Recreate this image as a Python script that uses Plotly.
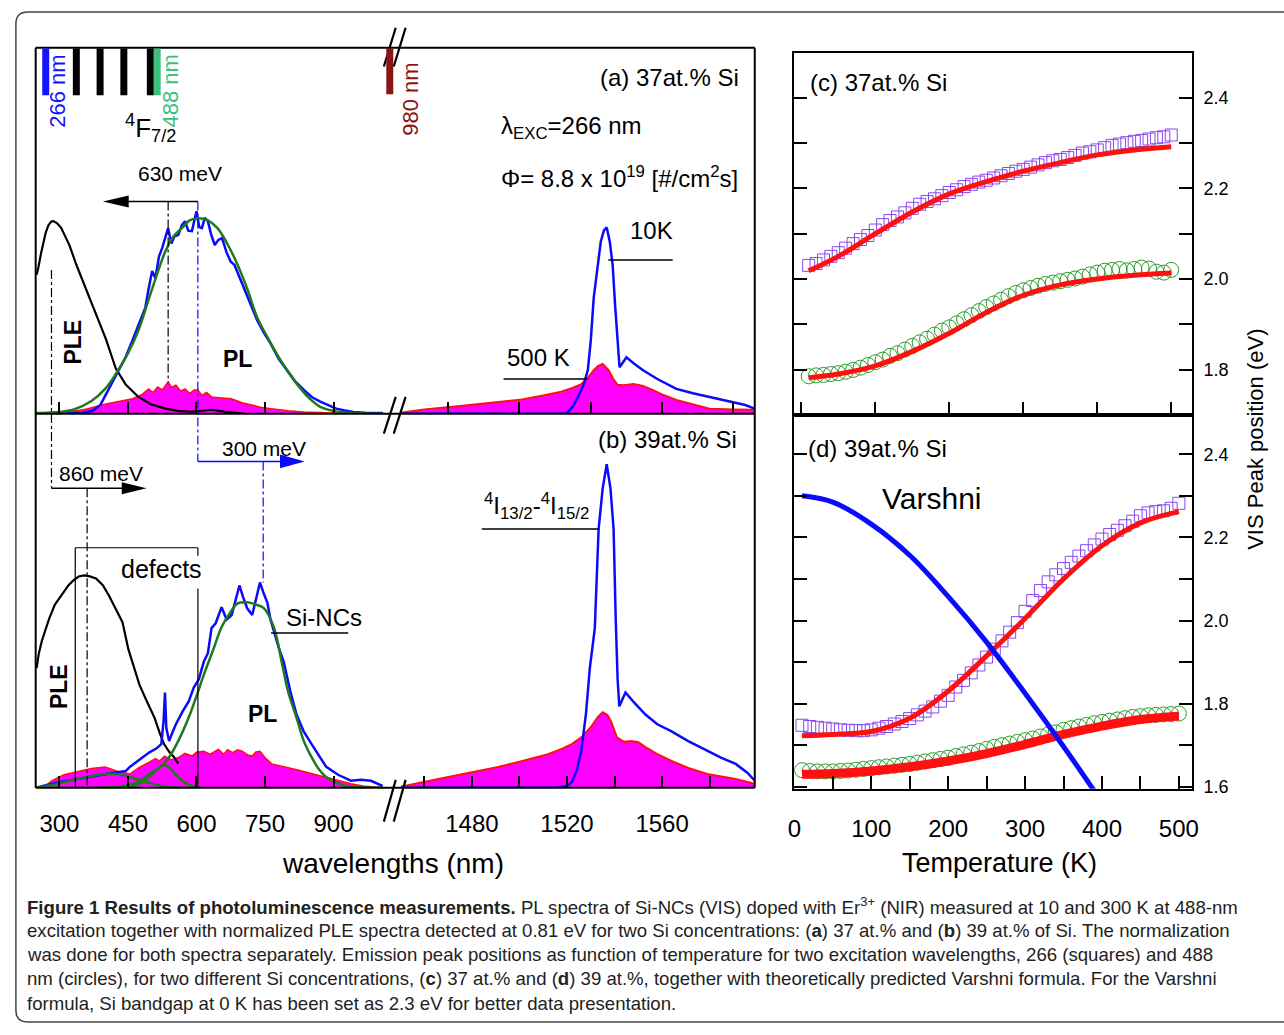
import plotly.graph_objects as go

W, H = 1284, 1035
def X(px): return px / W
def Y(py): return 1 - py / H

FONT = "Arial, Liberation Sans, Helvetica, sans-serif"
CAPFONT = "Liberation Sans, Arial, sans-serif"

# ---------------- panel (a) : 37 at.% Si ----------------
ple_a_wl = [250, 254, 260, 265, 270, 276, 282, 287, 295, 304, 313, 322, 337, 352, 366, 380, 402, 423, 445, 473, 500, 532, 560, 590, 610, 633, 660, 705]
ple_a_int = [38, 40, 44, 47, 49.5, 51.5, 52.5, 52.6, 52, 50.7, 48.5, 46, 40.7, 36, 31.5, 27, 20.3, 12.5, 8, 4.6, 2.6, 1.4, 0.8, 0.5, 0.8, 1.1, 0.6, 0]

pl_a_wl = [248, 300, 350, 373, 390, 402, 415, 430, 445, 460, 475, 488, 495, 503, 510, 518, 525, 532, 538, 545, 552, 560, 568, 575, 582, 590, 596, 600, 606, 612, 618, 625, 632, 640, 648, 656, 666, 675, 683, 695, 705, 720, 733, 748, 763, 780, 798, 815, 835, 853, 871, 890, 906, 925, 943, 970, 1008]
pl_a_int = [0, 0, 0.3, 0.8, 2.5, 5.4, 8.5, 11.9, 15.5, 20.1, 25, 29, 34, 39, 37, 43, 45.3, 48, 50.7, 46.5, 48.5, 48.8, 51.5, 52.6, 50, 49.9, 53, 55.3, 51, 50.7, 53.5, 52.6, 49, 46.1, 47.5, 48, 44, 41.5, 40.7, 37, 33.6, 29.5, 25.5, 22, 19, 15, 11.9, 9, 6.5, 4.5, 3.3, 2.2, 1.4, 0.9, 0.5, 0.3, 0.2]

fit_a_wl = [248, 300, 330, 370, 400, 423, 450, 473, 500, 532, 550, 568, 585, 603, 625, 646, 668, 690, 712, 733, 755, 776, 798, 820, 845, 871, 900, 940, 1008]
fit_a_int = [0.2, 0.5, 1.1, 3.5, 6.8, 10.8, 16.5, 22.8, 33, 44.4, 48.5, 50.7, 52.8, 53.4, 52.8, 50.7, 46.3, 40.7, 33.8, 26.3, 21, 16.3, 12, 8.1, 4.5, 1.9, 0.8, 0.2, 0]

hot_a_wl = [300, 330, 360, 402, 430, 460, 480, 495, 505, 515, 525, 538, 545, 555, 565, 575, 585, 595, 603, 612, 622, 633, 650, 676, 700, 720, 740, 763, 800, 835, 900, 1008]
hot_a_int = [0, 0.6, 1.3, 2.7, 3.3, 4.1, 5.2, 6.8, 5.8, 7.3, 6.5, 8.7, 7.2, 7.8, 6.2, 6.8, 5.5, 6.5, 6.5, 5, 5.8, 4.6, 4.4, 4.1, 3.0, 2.4, 1.8, 1.4, 0.8, 0.5, 0.2, 0]

nir_a_wl = [1450, 1518, 1520.4, 1522.5, 1524.6, 1527, 1528.75, 1530, 1531.25, 1532.8, 1534.2, 1535.5, 1536.7, 1538, 1539.2, 1540.2, 1541.25, 1542.1, 1543.5, 1545, 1548, 1552, 1558, 1566, 1573, 1580, 1589.6, 1595, 1599]
nir_a_int = [0, 0, 0.5, 2, 4.6, 8, 11.9, 20, 31.7, 40, 47, 50, 50.9, 47, 40.7, 30, 20.9, 12.7, 14, 15.4, 13.8, 11.9, 9.5, 6.8, 5.6, 4.6, 3.3, 2.4, 1.4]

nirhot_a_wl = [1450, 1460, 1476, 1490, 1500, 1510, 1517.5, 1522, 1526, 1529, 1531.25, 1533, 1535, 1537.5, 1539.5, 1541.25, 1544, 1548, 1552, 1555, 1560, 1566, 1573, 1580, 1590, 1599]
nirhot_a_int = [0.3, 1.2, 2.2, 3.2, 3.8, 5, 6, 7, 8.1, 10, 11.9, 13, 13.6, 11.9, 9.5, 7.9, 7.8, 8.1, 7.6, 6.8, 5.3, 3.8, 2.5, 1.4, 1.2, 1.1]

# ---------------- panel (b) : 39 at.% Si ----------------
ple_b_wl = [250, 255, 262, 270, 278, 290, 308, 320, 330, 342, 354, 365, 380, 395, 408, 423, 438, 451, 463, 475, 490, 508, 520, 529, 541, 551, 560]
ple_b_int = [32, 36, 39.5, 42.5, 45.4, 49, 52.3, 54.2, 55.4, 56.5, 56.8, 56.6, 56, 54.2, 51.5, 48, 44.3, 37, 32, 27.6, 23.5, 18.8, 14.5, 11.7, 9.5, 8.2, 6.5]

pl_b_wl = [248, 272, 300, 345, 365, 402, 445, 454, 475, 497, 512, 523, 528, 531, 534, 540, 548, 555, 570, 583, 594, 605, 616, 625, 633, 642, 655, 666, 677, 686, 694, 702, 711, 722, 731, 739, 747, 755, 762, 770, 780, 791, 805, 819, 835, 852, 868, 884, 910, 938, 960, 982, 1008]
pl_b_int = [0, 0.8, 1.5, 2.5, 2.9, 3.7, 4.5, 5.6, 7.5, 9.5, 10.5, 11.7, 18, 25.5, 16, 12.5, 15, 17, 20.5, 23.1, 26.8, 29, 33.7, 36, 42.7, 44, 48.3, 45, 46.2, 50, 54.1, 51, 48, 46.2, 50.5, 54.9, 52, 49.6, 45, 41.6, 37.5, 33.7, 26, 19.6, 15, 11.7, 8.5, 5.6, 3.5, 1.9, 2.2, 1.9, 0.5]

fit_b_wl = [248, 400, 440, 470, 497, 520, 540, 560, 583, 600, 616, 638, 655, 672, 690, 711, 730, 748, 770, 787, 800, 819, 835, 852, 868, 884, 910, 938, 980, 1008]
fit_b_int = [0, 0.1, 0.5, 1.5, 3.7, 5.5, 8.2, 12.5, 18.8, 24.5, 30.2, 37.4, 43, 46.5, 49.3, 49.6, 49, 48, 42.7, 33.4, 26, 18.8, 12.5, 8.2, 5, 2.9, 1.2, 0.3, 0, 0]

comp2_b_wl = [440, 465, 485, 500, 515, 527, 540, 555, 570, 590, 610]
comp2_b_int = [0, 0.6, 1.8, 3.2, 5, 6.2, 5.5, 3.5, 1.8, 0.5, 0]

comp3_b_wl = [248, 260, 300, 340, 380, 410, 440, 470, 500, 530, 560, 1008]
comp3_b_int = [0, 0.3, 1.2, 2.4, 3.4, 3.8, 3.4, 2.3, 1.2, 0.4, 0, 0]

hot_b_wl = [265, 283, 310, 345, 370, 400, 425, 454, 475, 497, 510, 519, 530, 545, 562, 575, 590, 600, 616, 630, 648, 660, 668, 679, 690, 700, 712, 722, 730, 739, 752, 765, 780, 798, 815, 830, 860, 884, 910, 938, 970, 1008]
hot_b_int = [0, 1.9, 3.5, 4.5, 5.2, 5.6, 4.5, 3.7, 5.5, 6.9, 7.8, 7.2, 8.5, 7.5, 8.2, 9.2, 8.5, 9.5, 9.8, 9.0, 10.3, 9.0, 10.2, 9.4, 10.2, 9.8, 8.8, 8.5, 9.6, 9.8, 7.8, 6.4, 6.0, 5.6, 5.0, 4.5, 3.6, 2.9, 2.0, 1.1, 0.4, 0]

nir_b_wl = [1450, 1515, 1520, 1522, 1524, 1526, 1528, 1529.6, 1531.7, 1533.3, 1535, 1536.7, 1538.3, 1539.6, 1540.5, 1541.3, 1542, 1543.2, 1544.6, 1548, 1553, 1558, 1564, 1571, 1579, 1585, 1591, 1596, 1599]
nir_b_int = [0, 0, 0.5, 1.5, 4.5, 9.8, 20, 32, 42.7, 69.2, 80, 86.5, 80, 69.2, 45, 29, 21.8, 23.5, 25.5, 23, 19.6, 17, 15.1, 12.5, 9.8, 8, 6.4, 4, 1.9]

nirhot_b_wl = [1450, 1460, 1470, 1480, 1491, 1500, 1512, 1518, 1522, 1526, 1530, 1533, 1535, 1537, 1538.5, 1541, 1544, 1547, 1550, 1553, 1558, 1564, 1571, 1579, 1585, 1591, 1596, 1599]
nirhot_b_int = [0.3, 1.5, 2.9, 4.2, 5.6, 7, 9, 10.5, 11.7, 13.5, 16.2, 19, 20.2, 19.5, 17.8, 13.5, 12.3, 12.5, 12.2, 10.9, 9, 7.2, 5.3, 3.7, 3, 2.4, 1.6, 1.1]

# excitation / level markers on top of panel (a) (nm)
exc_lines_wl = [270, 337, 389, 441, 499, 514]
exc_lines_col = ["#1414ff", "black", "black", "black", "black", "#3dbf7d"]

# ---------------- panels (c), (d): peak position vs T ----------------
temps = [10, 20, 30, 40, 50, 60, 70, 80, 90, 100, 110, 120, 130, 140, 150, 160, 170, 180, 190, 200,
         210, 220, 230, 240, 250, 260, 270, 280, 290, 300, 310, 320, 330, 340, 350, 360, 370, 380, 390, 400,
         410, 420, 430, 440, 450, 460, 470, 480, 490, 500]
c_sq = [2.030, 2.034, 2.042, 2.050, 2.058, 2.068, 2.078, 2.087, 2.096, 2.108, 2.120, 2.129, 2.137, 2.146, 2.156, 2.165, 2.171, 2.177, 2.184, 2.191,
        2.197, 2.204, 2.209, 2.214, 2.218, 2.223, 2.228, 2.233, 2.238, 2.242, 2.247, 2.252, 2.257, 2.261, 2.264, 2.268, 2.273, 2.278, 2.281, 2.285,
        2.290, 2.295, 2.298, 2.301, 2.304, 2.306, 2.309, 2.312, 2.314, 2.318]
c_ci = [1.785, 1.787, 1.788, 1.790, 1.792, 1.795, 1.799, 1.804, 1.810, 1.816, 1.822, 1.830, 1.836, 1.844, 1.852, 1.860, 1.868, 1.877, 1.886, 1.893,
        1.902, 1.911, 1.920, 1.929, 1.938, 1.946, 1.954, 1.962, 1.969, 1.975, 1.980, 1.985, 1.989, 1.992, 1.995, 1.998, 2.001, 2.005, 2.010, 2.014,
        2.018, 2.020, 2.022, 2.019, 2.022, 2.025, 2.023, 2.016, 2.014, 2.020]
d_sq = [1.748, 1.745, 1.743, 1.741, 1.739, 1.737, 1.736, 1.735, 1.735, 1.737, 1.741, 1.745, 1.751, 1.757, 1.764, 1.773, 1.782, 1.792, 1.806, 1.820,
        1.840, 1.856, 1.874, 1.893, 1.912, 1.931, 1.951, 1.972, 1.995, 2.022, 2.048, 2.072, 2.093, 2.110, 2.125, 2.140, 2.155, 2.168, 2.182, 2.196,
        2.207, 2.217, 2.228, 2.239, 2.252, 2.259, 2.262, 2.264, 2.270, 2.282]
d_ci = [1.640, 1.638, 1.637, 1.637, 1.637, 1.638, 1.639, 1.641, 1.643, 1.645, 1.647, 1.649, 1.651, 1.653, 1.655, 1.658, 1.661, 1.664, 1.667, 1.670,
        1.674, 1.678, 1.682, 1.686, 1.691, 1.696, 1.700, 1.704, 1.708, 1.712, 1.716, 1.721, 1.726, 1.731, 1.737, 1.741, 1.745, 1.749, 1.753, 1.756,
        1.759, 1.762, 1.765, 1.768, 1.770, 1.772, 1.773, 1.774, 1.775, 1.776]

fit_T = [10, 50, 100, 150, 200, 250, 300, 350, 400, 450, 500]
c_sq_fit = [2.018, 2.050, 2.100, 2.148, 2.188, 2.215, 2.238, 2.257, 2.274, 2.285, 2.292]
c_ci_fit = [1.782, 1.790, 1.808, 1.840, 1.880, 1.926, 1.964, 1.987, 2.000, 2.008, 2.013]
d_sq_fit = [1.723, 1.726, 1.733, 1.765, 1.830, 1.915, 2.005, 2.100, 2.180, 2.235, 2.262]
d_ci_fit = [1.630, 1.632, 1.638, 1.648, 1.662, 1.680, 1.702, 1.726, 1.746, 1.762, 1.770]

varshni_T = [10, 50, 100, 150, 200, 250, 300, 350, 390]
varshni_E = [2.300, 2.285, 2.232, 2.157, 2.058, 1.948, 1.825, 1.697, 1.590]

# tick labels
vis_ticks = [300, 450, 600, 750, 900]
nir_ticks = [1480, 1520, 1560]
ev_c_ticks = [1.8, 2.0, 2.2, 2.4]
ev_d_ticks = [1.6, 1.8, 2.0, 2.2, 2.4]
t_ticks = [0, 100, 200, 300, 400, 500]

# ---------------- figure ----------------
BLUE = "#0a0aff"
GREEN = "#1f7a1f"
MAG = "#ff00ff"
RED = "#ff1010"

fig = go.Figure()

def add(x, y, xa, ya, **kw):
    fig.add_trace(go.Scatter(x=x, y=y, xaxis=xa, yaxis=ya, hoverinfo="skip", **kw))

# (a) left
add(hot_a_wl, hot_a_int, "x", "y", mode="lines", fill="tozeroy", fillcolor=MAG, line=dict(color=RED, width=1.5))
add(ple_a_wl, ple_a_int, "x", "y", mode="lines", line=dict(color="black", width=2.2))
add(pl_a_wl, pl_a_int, "x", "y", mode="lines", line=dict(color=BLUE, width=2.5))
add(fit_a_wl, fit_a_int, "x", "y", mode="lines", line=dict(color=GREEN, width=2.5, shape="spline"))
# (a) right
add(nirhot_a_wl, nirhot_a_int, "x2", "y2", mode="lines", fill="tozeroy", fillcolor=MAG, line=dict(color=RED, width=2))
add(nir_a_wl, nir_a_int, "x2", "y2", mode="lines", line=dict(color=BLUE, width=2.5))
# (b) left
add(hot_b_wl, hot_b_int, "x3", "y3", mode="lines", fill="tozeroy", fillcolor=MAG, line=dict(color=RED, width=1.5))
add(ple_b_wl, ple_b_int, "x3", "y3", mode="lines", line=dict(color="black", width=2.2))
add(pl_b_wl, pl_b_int, "x3", "y3", mode="lines", line=dict(color=BLUE, width=2.5))
add(comp3_b_wl, comp3_b_int, "x3", "y3", mode="lines", line=dict(color=GREEN, width=2.5, shape="spline"))
add(comp2_b_wl, comp2_b_int, "x3", "y3", mode="lines", line=dict(color=GREEN, width=2.5, shape="spline"))
add(fit_b_wl, fit_b_int, "x3", "y3", mode="lines", line=dict(color=GREEN, width=2.5, shape="spline"))
# (b) right
add(nirhot_b_wl, nirhot_b_int, "x4", "y4", mode="lines", fill="tozeroy", fillcolor=MAG, line=dict(color=RED, width=2))
add(nir_b_wl, nir_b_int, "x4", "y4", mode="lines", line=dict(color=BLUE, width=2.5))

SQ = dict(symbol="square-open", size=12, color="#8a45f0", line=dict(width=1))
CI = dict(symbol="circle-open", size=15, color="#2a9a2a", line=dict(width=1))
# (c)
add(temps, c_sq, "x5", "y5", mode="markers", marker=SQ)
add(temps, c_ci, "x5", "y5", mode="markers", marker=CI)
add(fit_T, c_sq_fit, "x5", "y5", mode="lines", line=dict(color=RED, width=5, shape="spline"))
add(fit_T, c_ci_fit, "x5", "y5", mode="lines", line=dict(color=RED, width=5, shape="spline"))
# (d)
add(temps, d_sq, "x6", "y6", mode="markers", marker=SQ)
add(temps, d_ci, "x6", "y6", mode="markers", marker=CI)
add(fit_T, d_sq_fit, "x6", "y6", mode="lines", line=dict(color=RED, width=5, shape="spline"))
add(fit_T, d_ci_fit, "x6", "y6", mode="lines", line=dict(color=RED, width=9, shape="spline"))
add(varshni_T, varshni_E, "x6", "y6", mode="lines", line=dict(color=BLUE, width=5, shape="spline"))

# ---------------- axes ----------------
X_LL = [X(29), X(380)]
X_LR = [X(398), X(756)]
Y_A = [Y(417), Y(48)]
Y_B = [Y(794), Y(417)]
X_R = [X(796), X(1198)]
Y_C = [Y(418), Y(53)]
Y_D = [Y(795), Y(418)]

tickfont = dict(family=FONT, size=24, color="black")

def xl(domain, rng, anchor, vals, show=False, minor=None):
    d = dict(domain=domain, range=rng, anchor=anchor, showgrid=False, zeroline=False, showline=False,
             ticks="inside", ticklen=12, tickwidth=1.5, tickcolor="black", tickmode="array", tickvals=vals,
             ticktext=[str(v) for v in vals],
             showticklabels=show, tickfont=tickfont, ticklabelstandoff=19)
    if minor:
        d["minor"] = minor
    return d

def yl(domain, anchor):
    return dict(domain=domain, range=[0, 100], anchor=anchor, visible=False, showgrid=False, zeroline=False)

layout = dict(
    width=W, height=H, margin=dict(l=0, r=0, t=0, b=0),
    paper_bgcolor="white", plot_bgcolor="rgba(0,0,0,0)", showlegend=False,
    xaxis=xl(X_LL, [248, 1008], "y", vis_ticks),
    yaxis=yl(Y_A, "x"),
    xaxis2=xl(X_LR, [1450, 1599], "y2", [1470, 1500, 1530, 1560, 1590]),
    yaxis2=yl(Y_A, "x2"),
    xaxis3=xl(X_LL, [248, 1008], "y3", vis_ticks, True),
    yaxis3=yl(Y_B, "x3"),
    xaxis4=xl(X_LR, [1450, 1599], "y4", nir_ticks, True,
              minor=dict(tick0=1460, dtick=20, ticks="inside", ticklen=12, tickwidth=1.5, tickcolor="black", showgrid=False)),
    yaxis4=yl(Y_B, "x4"),
)

MINOR_STYLE = dict(ticks="inside", ticklen=13, tickwidth=1.5, tickcolor="black", showgrid=False)

def rx(domain, rng, anchor, vals, show=False, minor_dtick=None):
    d = dict(domain=domain, range=rng, anchor=anchor, showgrid=False, zeroline=False,
             showline=True, linecolor="black", linewidth=2, mirror=True,
             ticks="inside", ticklen=13, tickwidth=1.5, tickcolor="black",
             tickmode="array", tickvals=vals, ticktext=[str(v) for v in vals],
             showticklabels=show, tickfont=tickfont, ticklabelstandoff=17)
    if minor_dtick:
        d["minor"] = dict(tick0=0, dtick=minor_dtick, **MINOR_STYLE)
    return d

def ry(domain, rng, anchor, vals):
    return dict(domain=domain, range=rng, anchor=anchor, side="right", showgrid=False, zeroline=False,
                showline=True, linecolor="black", linewidth=2, mirror="ticks",
                ticks="inside", ticklen=13, tickwidth=1.5, tickcolor="black",
                tickmode="array", tickvals=vals, ticktext=[f"{v:.1f}" for v in vals],
                tickfont=dict(family=FONT, size=18, color="black"), ticklabelstandoff=6,
                minor=dict(tick0=1.5, dtick=0.1, **MINOR_STYLE))

layout.update(
    xaxis5=rx(X_R, [-9.4, 528], "y5", t_ticks),
    yaxis5=ry(Y_C, [1.70, 2.50], "x5", ev_c_ticks),
    xaxis6=rx(X_R, [0, 517], "y6", t_ticks, True, minor_dtick=50),
    yaxis6=ry(Y_D, [1.595, 2.495], "x6", ev_d_ticks),
)
fig.update_layout(**layout)

# ---------------- shapes ----------------
shapes = []
def pline(x0, y0, x1, y1, color="black", width=2, dash=None):
    ln = dict(color=color, width=width)
    if dash:
        ln["dash"] = dash
    shapes.append(dict(type="line", xref="paper", yref="paper", x0=X(x0), y0=Y(y0), x1=X(x1), y1=Y(y1), line=ln))

def vline_wl(wl, y0, y1, color="black", width=1.2, dash="dashdot"):
    shapes.append(dict(type="line", xref="x", yref="paper", x0=wl, x1=wl, y0=Y(y0), y1=Y(y1),
                       line=dict(color=color, width=width, dash=dash)))

def tri(pts, color):
    p = "M " + " L ".join(f"{X(a)},{Y(b)}" for a, b in pts) + " Z"
    shapes.append(dict(type="path", xref="paper", yref="paper", path=p, fillcolor=color, line=dict(width=0)))

# outer rounded box
r = 12
path = (f"M {X(1300)},{Y(12)} L {X(9 + r)},{Y(12)} Q {X(9)},{Y(12)} {X(9)},{Y(12 + r)} "
        f"L {X(9)},{Y(1030 - r)} Q {X(9)},{Y(1030)} {X(9 + r)},{Y(1030)} L {X(1300)},{Y(1030)}")
shapes.append(dict(type="path", xref="paper", yref="paper", path=path, line=dict(color="#444", width=1.5)))

# frames of left panel
pline(29, 48, 756, 48); pline(29, 794, 756, 794)
pline(29, 48, 29, 794); pline(756, 48, 756, 794)
pline(29, 417, 756, 417)
# axis break marks
for (ya, yb) in [(67, 28), (437, 400), (828, 786)]:
    pline(381, ya, 393, yb, width=2.2)
    pline(391, ya, 403, yb, width=2.2)

# excitation markers
for wl, col in zip(exc_lines_wl, exc_lines_col):
    shapes.append(dict(type="line", xref="x", yref="paper", x0=wl, x1=wl, y0=Y(49), y1=Y(96),
                       line=dict(color=col, width=7)))
pline(387, 49, 387, 95, color="#8b1414", width=7)

# arrows and guide lines
vline_wl(603, 203, 465, color=BLUE)
vline_wl(538, 203, 385)
vline_wl(282.6, 272, 492)
vline_wl(360.6, 492, 794)
vline_wl(746, 465, 587, color=BLUE)
pline(193, 203, 115, 203, width=1.5)
tri([(97, 203), (123, 197), (123, 209)], "black")
pline(45, 492, 122, 492, width=1.5)
tri([(141, 492), (116, 486), (116, 498)], "black")
pline(193, 465, 280, 465, color=BLUE, width=1.5)
tri([(301, 465), (276, 458), (276, 472)], BLUE)
# leader lines
pline(608, 262, 673, 262, width=1.5)
pline(502, 382, 587, 382, width=1.5)
pline(480, 533, 598, 533, width=1.5)
pline(267, 638, 345, 638, width=1.5)
# defects bracket
pline(69, 794, 69, 552, width=1.2)
pline(69, 552, 193, 552, width=1.2)
pline(193, 552, 193, 560, width=1.2)
pline(193, 593, 193, 794, width=1.2)

fig.update_layout(shapes=shapes)

# ---------------- annotations ----------------
ann = []
def text(t, px, py, size=24, color="black", angle=0, xa="center", ya="middle", family=FONT):
    ann.append(dict(text=t, x=X(px), y=Y(py), xref="paper", yref="paper", showarrow=False,
                    xanchor=xa, yanchor=ya, textangle=angle, font=dict(family=family, size=size, color=color)))

text("266 nm", 51, 92, 22, "#1414ff", -90)
text("488 nm", 165, 92, 22, "#3dbf7d", -90)
text("980 nm", 408, 100, 22, "#8b1414", -90)
text("<sup>4</sup>F<sub>7/2</sub>", 117, 129, 26, xa="left")
text("(a) 37at.% Si", 742, 78, 24, xa="right")
text("λ<sub>EXC</sub>=266 nm", 497, 128, 24, xa="left")
text("Φ= 8.8 x 10<sup>19</sup> [#/cm<sup>2</sup>s]", 497, 178, 24, xa="left")
text("630 meV", 175, 175, 21)
text("10K", 628, 232, 24, xa="left")
text("500 K", 503, 360, 24, xa="left")
text("<b>PLE</b>", 67, 345, 23, angle=-90)
text("<b>PL</b>", 233, 362, 23)
text("(b) 39at.% Si", 740, 443, 24, xa="right")
text("300 meV", 260, 452, 21)
text("860 meV", 95, 477, 21)
text("<sup>4</sup>I<sub>13/2</sub>-<sup>4</sup>I<sub>15/2</sub>", 480, 510, 24, xa="left")
text("defects", 156, 573, 25)
text("Si-NCs", 320, 622, 24)
text("<b>PLE</b>", 52, 692, 23, angle=-90)
text("<b>PL</b>", 258, 720, 23)
text("wavelengths (nm)", 390, 870, 28)
text("(c) 37at.% Si", 810, 83, 24, xa="left")
text("(d) 39at.% Si", 808, 452, 24, xa="left")
text("Varshni", 935, 502, 30)
text("VIS Peak position (eV)", 1262, 443, 22, angle=-90)
text("Temperature (K)", 1003, 870, 27)

caption = [
    "<b>Figure 1 Results of photoluminescence measurements.</b> PL spectra of Si-NCs (VIS) doped with Er<sup>3+</sup> (NIR) measured at 10 and 300 K at 488-nm",
    "excitation together with normalized PLE spectra detected at 0.81 eV for two Si concentrations: (<b>a</b>) 37 at.% and (<b>b</b>) 39 at.% of Si. The normalization",
    "was done for both spectra separately. Emission peak positions as function of temperature for two excitation wavelengths, 266 (squares) and 488",
    "nm (circles), for two different Si concentrations, (<b>c</b>) 37 at.% and (<b>d</b>) 39 at.%, together with theoretically predicted Varshni formula. For the Varshni",
    "formula, Si bandgap at 0 K has been set as 2.3 eV for better data presentation.",
]
for i, line in enumerate(caption):
    text(line, 18, 913 + i * 24.5, 18.6, "#222", xa="left", family=CAPFONT)

fig.update_layout(annotations=ann)
fig.write_html("out.html")
